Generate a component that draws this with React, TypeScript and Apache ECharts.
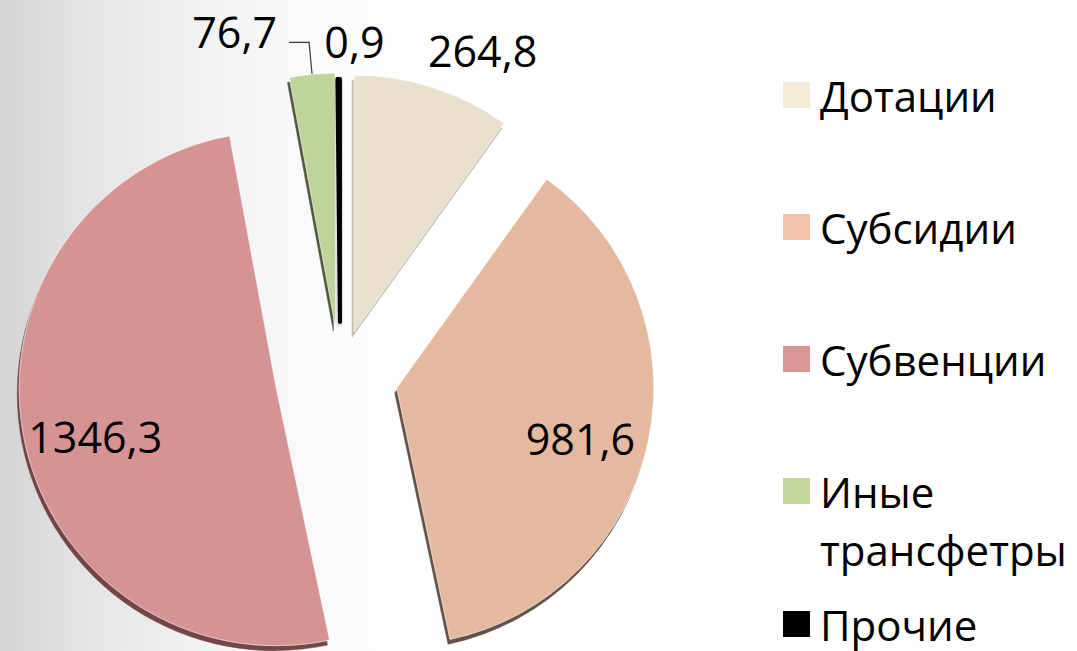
import React, { useEffect, useRef } from 'react';
import * as echarts from 'echarts';

const categories = ['Дотации', 'Субсидии', 'Субвенции', 'Иные трансфетры', 'Прочие'];
const values = [264.8, 981.6, 1346.3, 76.7, 0.9];
const legendLabels = ['Дотации', 'Субсидии', 'Субвенции', 'Иные\nтрансфетры', 'Прочие'];

const sliceColors = ['#e9e0cd', '#e5b9a0', '#d59393', '#bfd49a', '#000000'];
const legendColors = ['#f5ebd9', '#f2c4ac', '#d99694', '#c4d69d', '#000000'];
const shadowColors = ['rgba(190,180,160,0.9)', 'rgba(90,70,60,0.95)', 'rgba(110,60,60,0.95)', 'rgba(60,70,40,0.9)', 'rgba(0,0,0,0.3)'];
const explode = [46, 58, 65, 50, 54];
const radiusTrim = [0, 0, 0, 4, 14];
const legendCenters = [95, 227, 359, 491, 624];
const labelShift: number[][] = [[-10, -37], [55, 24], [-52, 22], [0, 0], [51, -38]];
const labelPositions = ['outside', 'inside', 'inside', 'outside', 'outside'];
const minAngles = [0, 0, 0, 0, 0.6];

const FONT = '"Open Sans", "Noto Sans", sans-serif';
const baseCenter = [340, 376];
const R = 257;

function fmt(v: number) {
  return String(v).replace('.', ',');
}

function buildOption() {
  const total = values.reduce((a, b) => a + b, 0);
  let acc = 0;
  const series = values.map((v, i) => {
    const mid = ((acc + v / 2) / total) * 2 * Math.PI;
    acc += v;
    const cx = baseCenter[0] + explode[i] * Math.sin(mid);
    const cy = baseCenter[1] - explode[i] * Math.cos(mid);
    const isLeader = i === 3;
    const isThin = i === 4;
    const mainStyle = {
      color: sliceColors[i],
      borderColor: isThin ? '#000' : 'rgba(255,255,255,0.5)',
      borderWidth: isThin ? 4 : 1,
      shadowColor: shadowColors[i],
      shadowBlur: isThin ? 4 : 1,
      shadowOffsetX: isThin ? 0 : -2,
      shadowOffsetY: isThin ? 2 : 5,
    };
    const data = values.map((w, j) =>
      j === i
        ? {
            name: categories[j],
            value: w,
            itemStyle: mainStyle,
            label: {
              show: true,
              position: labelPositions[j],
              formatter: (p: any) => (isLeader ? '{v|' + fmt(p.value) + '}\n{e|}' : fmt(p.value)),
              fontFamily: FONT,
              fontSize: 43,
              color: '#000',
              distanceToLabelLine: isLeader ? 12 : 5,
              rich: {
                v: { fontFamily: FONT, fontSize: 43, lineHeight: 46, color: '#000' },
                e: { fontSize: 10, lineHeight: 22 },
              },
            },
            labelLine: {
              show: isLeader,
              length: isLeader ? 32 : 0,
              length2: isLeader ? 20 : 0,
              smooth: false,
              lineStyle: { color: '#3a3a3a', width: 1.2 },
            },
          }
        : {
            name: '',
            value: w,
            itemStyle: {
              color: 'rgba(0,0,0,0)',
              borderWidth: 0,
              borderColor: 'rgba(0,0,0,0)',
              shadowBlur: 0,
              shadowColor: 'rgba(0,0,0,0)',
            },
            label: { show: false },
            labelLine: { show: false },
          }
    );
    return {
      type: 'pie',
      name: categories[i],
      center: [cx, cy],
      radius: R - radiusTrim[i],
      startAngle: 90,
      clockwise: true,
      minAngle: minAngles[i],
      avoidLabelOverlap: false,
      silent: true,
      emphasis: { disabled: true },
      itemStyle: isThin ? { borderColor: '#000', borderWidth: 4 } : undefined,
      labelLayout: isLeader
        ? undefined
        : (params: any) => (params.dataIndex === i ? { dx: labelShift[i][0], dy: labelShift[i][1] } : {}),
      data,
      z: 2,
    };
  });

  const legend = categories.map((name, i) => {
    const lines = legendLabels[i].split('\n').length;
    const lh = 58;
    const padLines = lines - 1;
    const text = '\n'.repeat(padLines) + legendLabels[i];
    const blockH = lh * (lines + padLines);
    return {
      left: 783,
      top: legendCenters[i] - blockH / 2,
      orient: 'vertical',
      padding: 0,
      itemWidth: 27,
      itemHeight: 26,
      selectedMode: false,
      formatter: () => text,
      textStyle: {
        fontFamily: FONT,
        fontSize: 42,
        lineHeight: lh,
        color: '#000',
        padding: [0, 0, 0, 5],
      },
      data: [{ name, icon: 'rect', itemStyle: { color: legendColors[i], borderWidth: 0, shadowBlur: 0 } }],
    };
  });

  return {
    animation: false,
    backgroundColor: 'transparent',
    legend,
    series,
  };
}

export default function App() {
  const ref = useRef<HTMLDivElement>(null);
  useEffect(() => {
    if (!ref.current) return;
    const chart = echarts.init(ref.current, undefined, { renderer: 'svg' });
    chart.setOption(buildOption() as any);
    return () => chart.dispose();
  }, []);
  return (
    <div
      ref={ref}
      style={{
        position: 'fixed',
        left: 0,
        top: 0,
        width: 1077,
        height: 651,
        background: 'linear-gradient(90deg, #d4d4d4 0%, #e4e4e4 8%, #f3f3f3 20%, #fcfcfc 32%, #ffffff 42%)',
      }}
    />
  );
}
